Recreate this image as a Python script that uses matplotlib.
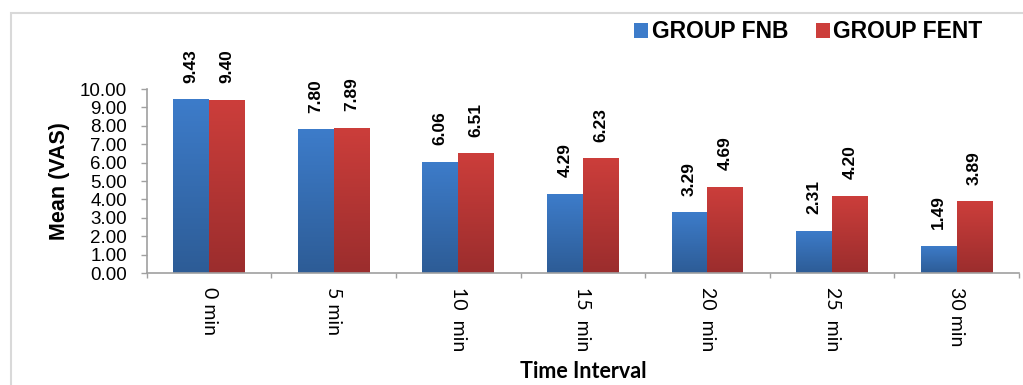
import numpy as np
import matplotlib
matplotlib.use('Agg')
from matplotlib import pyplot as plt
from matplotlib.colors import LinearSegmentedColormap
from matplotlib.patches import Patch, Rectangle

# data
intervals = ['0 min', '5 min', '10  min', '15  min', '20  min', '25  min', '30 min']
fnb = [9.43, 7.80, 6.06, 4.29, 3.29, 2.31, 1.49]
fent = [9.40, 7.89, 6.51, 6.23, 4.69, 4.20, 3.89]
groups = ['GROUP FNB', 'GROUP FENT']

blue_top, blue_bot = '#3d7cca', '#2d5c96'
red_top, red_bot = '#cc3e3b', '#9b2d2d'

fig = plt.figure(figsize=(10.23, 3.85), dpi=100)
ax = fig.add_axes([0.1434, 0.2909, 0.8527, 0.4779])

x = np.arange(len(intervals))
w = 0.287
bars1 = ax.bar(x - w / 2, fnb, w, color=blue_top, linewidth=0)
bars2 = ax.bar(x + w / 2, fent, w, color=red_top, linewidth=0)


def shade(bars, top, bot):
    cmap = LinearSegmentedColormap.from_list('g', [bot, top])
    grad = np.linspace(0, 1, 256).reshape(-1, 1)
    for p in bars:
        x0, y0 = p.get_x(), p.get_y()
        im = ax.imshow(grad, extent=[x0, x0 + p.get_width(), y0, y0 + p.get_height()],
                       origin='lower', cmap=cmap, aspect='auto', zorder=p.get_zorder())
        im.set_clip_path(p)


shade(bars1, blue_top, blue_bot)
shade(bars2, red_top, red_bot)

for bars, vals in ((bars1, fnb), (bars2, fent)):
    for p, v in zip(bars, vals):
        ax.annotate('%.2f' % v, (p.get_x() + p.get_width() / 2, v),
                    xytext=(0, 12), textcoords='offset points', rotation=90,
                    ha='center', va='bottom', fontsize=12.5, fontweight='bold',
                    family='Liberation Sans', annotation_clip=False)

ax.set_xlim(-0.5, len(intervals) - 0.5)
ax.set_ylim(0, 10)
ax.set_yticks(np.arange(0, 11, 1))
ax.set_yticklabels(['%.2f' % t for t in np.arange(0, 11, 1)], family='Liberation Sans', fontsize=13.5)
ax.set_xticks(x)
ax.set_xticklabels(intervals, rotation=-90, family='Lato', fontsize=14, va='top')
ax.set_xticks(np.arange(-0.5, len(intervals)), minor=True)
ax.tick_params(axis='x', which='major', length=0, pad=10)
ax.tick_params(axis='x', which='minor', length=3.6, color='#a0a0a0', width=1)
ax.tick_params(axis='y', length=4.3, color='#a0a0a0', width=1, pad=10)

for s in ('top', 'right'):
    ax.spines[s].set_visible(False)
for s in ('left', 'bottom'):
    ax.spines[s].set_color('#a0a0a0')
    ax.spines[s].set_linewidth(1.2)

ax.set_ylabel('Mean (VAS)', family='Liberation Sans', fontweight='bold', fontsize=15.5, labelpad=7)
ax.set_xlabel('Time Interval', family='Lato', fontweight='bold', fontsize=15.5, labelpad=7)

handles = [Patch(facecolor=blue_top, edgecolor='none'), Patch(facecolor=red_top, edgecolor='none')]
fig.legend(handles, groups, loc='center', bbox_to_anchor=(0.790, 0.917), ncol=2, frameon=False,
           prop={'family': 'Liberation Sans', 'weight': 'bold', 'size': 16.5},
           handlelength=0.62, handleheight=0.62, handletextpad=0.15, columnspacing=1.2)

fig.patches.append(Rectangle((10.5 / 1023, -0.05), 1.1, 1.05 - 12.5 / 385, transform=fig.transFigure,
                             fill=False, edgecolor='#d9d9d9', linewidth=1.5))

fig.savefig('out.png', dpi=100)
